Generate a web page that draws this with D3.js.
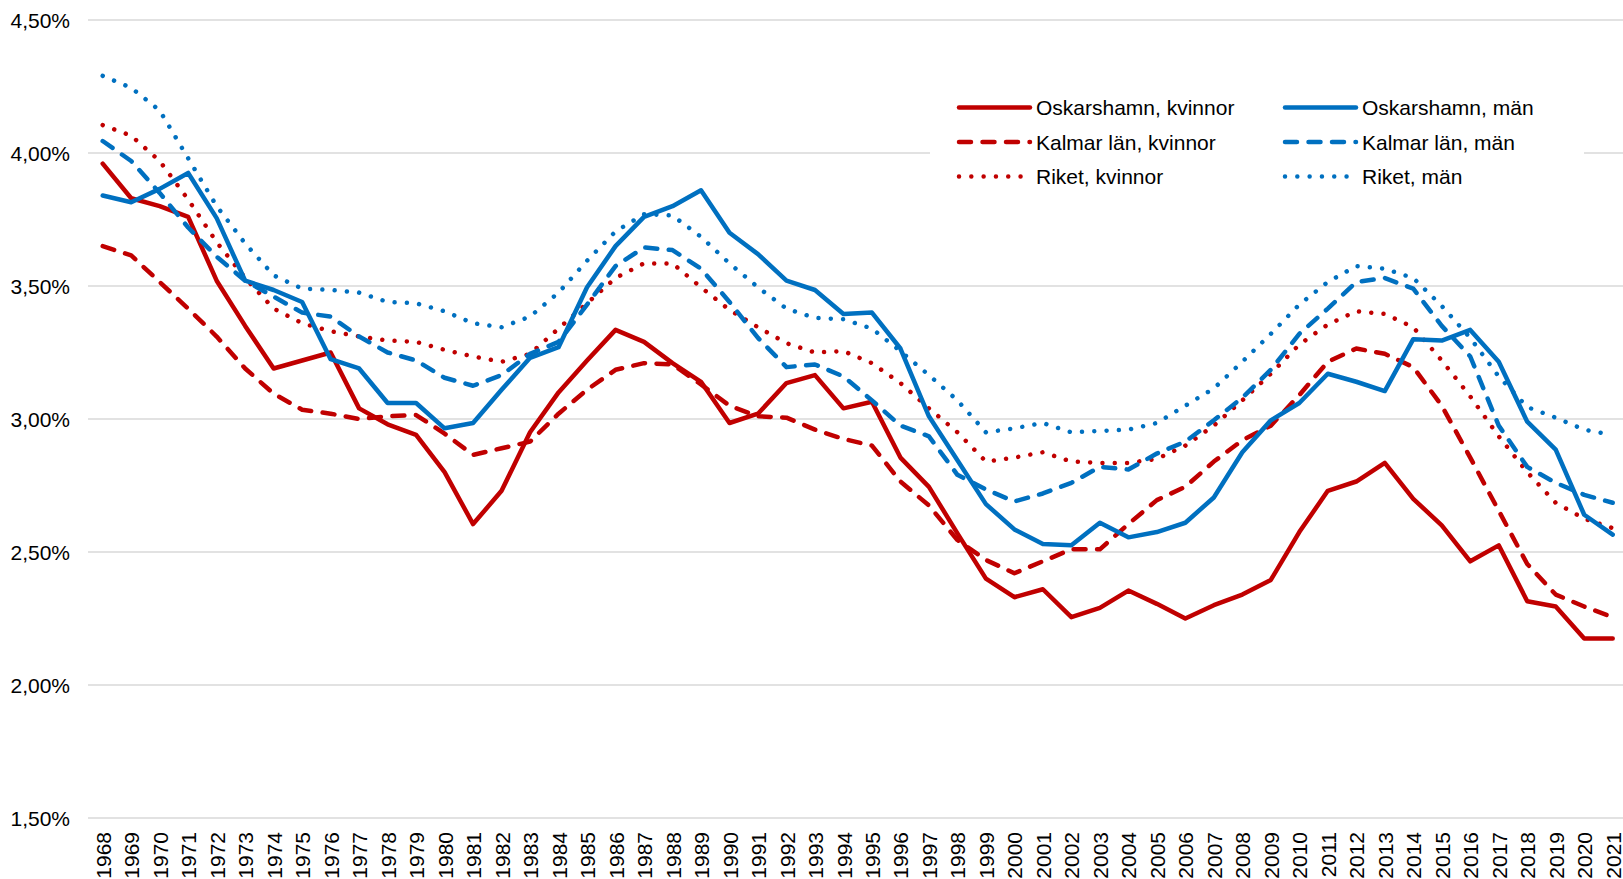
<!DOCTYPE html>
<html>
<head>
<meta charset="utf-8">
<script src="https://cdn.jsdelivr.net/npm/d3@7"></script>
<style>
  html, body { margin: 0; padding: 0; background: #fff; }
  svg { display: block; }
  text { font-family: "Liberation Sans", Arial, sans-serif; fill: #000; }
</style>
</head>
<body>
<svg id="chart" width="1623" height="879"></svg>
<script>
const years = d3.range(1968, 2022);

const oskKvinnor = [3.96,3.83,3.80,3.76,3.52,3.35,3.19,3.22,3.25,3.04,2.98,2.94,2.80,2.605,2.73,2.95,3.10,3.22,3.335,3.29,3.21,3.14,2.985,3.02,3.135,3.165,3.04,3.065,2.855,2.745,2.57,2.40,2.33,2.36,2.255,2.29,2.355,2.305,2.25,2.30,2.34,2.395,2.575,2.73,2.765,2.835,2.70,2.60,2.465,2.525,2.315,2.295,2.175,2.175];
const oskMan = [3.84,3.815,3.865,3.925,3.755,3.52,3.485,3.44,3.225,3.19,3.06,3.06,2.965,2.985,3.11,3.23,3.27,3.495,3.65,3.76,3.80,3.86,3.70,3.62,3.52,3.485,3.395,3.40,3.265,3.01,2.845,2.68,2.585,2.53,2.525,2.61,2.555,2.575,2.61,2.705,2.875,2.995,3.06,3.17,3.14,3.105,3.30,3.295,3.335,3.215,2.99,2.885,2.64,2.565];
const kalKvinnor = [3.65,3.615,3.515,3.415,3.31,3.19,3.095,3.035,3.02,3.00,3.01,3.015,2.945,2.865,2.89,2.915,3.02,3.11,3.185,3.21,3.205,3.13,3.05,3.01,3.005,2.96,2.925,2.90,2.765,2.675,2.545,2.47,2.42,2.465,2.51,2.51,2.605,2.695,2.745,2.84,2.92,2.975,3.09,3.215,3.265,3.245,3.195,3.05,2.855,2.655,2.455,2.34,2.295,2.255];
const kalMan = [4.045,3.97,3.85,3.72,3.61,3.52,3.46,3.40,3.385,3.31,3.25,3.22,3.155,3.125,3.165,3.245,3.29,3.43,3.575,3.645,3.635,3.565,3.44,3.305,3.195,3.205,3.16,3.07,2.975,2.935,2.79,2.735,2.69,2.72,2.76,2.82,2.81,2.87,2.915,2.995,3.08,3.185,3.32,3.415,3.515,3.53,3.49,3.35,3.235,2.975,2.82,2.76,2.715,2.685];
const riketKvinnor = [4.105,4.065,3.97,3.825,3.665,3.53,3.415,3.36,3.33,3.31,3.295,3.29,3.26,3.235,3.215,3.245,3.34,3.435,3.53,3.585,3.585,3.495,3.41,3.345,3.285,3.25,3.255,3.21,3.135,3.04,2.95,2.84,2.855,2.875,2.84,2.835,2.835,2.85,2.90,2.975,3.07,3.17,3.28,3.355,3.405,3.395,3.345,3.22,3.085,2.935,2.80,2.685,2.625,2.59];
const riketMan = [4.29,4.245,4.16,3.98,3.80,3.66,3.54,3.49,3.485,3.475,3.44,3.435,3.405,3.36,3.345,3.385,3.475,3.595,3.705,3.77,3.765,3.685,3.585,3.495,3.415,3.38,3.375,3.34,3.255,3.165,3.07,2.95,2.965,2.985,2.95,2.955,2.96,2.985,3.05,3.115,3.215,3.32,3.43,3.515,3.575,3.565,3.53,3.425,3.305,3.16,3.045,3.005,2.96,2.94];

const seriesNames = ["Oskarshamn, kvinnor","Kalmar län, kvinnor","Riket, kvinnor","Oskarshamn, män","Kalmar län, män","Riket, män"];
const seriesValues = [oskKvinnor, kalKvinnor, riketKvinnor, oskMan, kalMan, riketMan];
const seriesColors = ["#C00000","#C00000","#C00000","#0070C0","#0070C0","#0070C0"];
const seriesStyles = ["solid","dash","dot","solid","dash","dot"];
const yTicks = [1.5, 2.0, 2.5, 3.0, 3.5, 4.0, 4.5];

const svg = d3.select("#chart");
const plotLeft = 88, plotRight = 1623;
const x = d3.scalePoint().domain(years).range([102.7, 1612.7]);
const y = d3.scaleLinear().domain([1.5, 4.5]).range([818, 20]);

const locale = d3.formatLocale({decimal: ",", thousands: " ", grouping: [3], currency: ["", " kr"]});
const fmt = v => locale.format(".2f")(v) + "%";

// gridlines
const grid = svg.append("g");
grid.selectAll("line").data(yTicks).join("line")
  .attr("x1", plotLeft).attr("x2", plotRight)
  .attr("y1", d => y(d)).attr("y2", d => y(d))
  .attr("stroke", "#d9d9d9").attr("stroke-width", 1.4);

// y axis labels
const yAxis = d3.axisLeft(y).tickValues(yTicks).tickFormat(fmt).tickSize(0).tickPadding(0);
const yg = svg.append("g").attr("transform", "translate(70,0)").call(yAxis);
yg.select(".domain").remove();
yg.selectAll("text").attr("font-size", 21).attr("font-family", "Liberation Sans, Arial, sans-serif").attr("fill", "#000").attr("dy", "0.36em");

// x axis labels
const xAxis = d3.axisBottom(x).tickSize(0).tickPadding(0).tickFormat(d => String(d));
const xg = svg.append("g").attr("transform", "translate(0,832)").call(xAxis);
xg.select(".domain").remove();
xg.selectAll("text")
  .attr("font-size", 21).attr("font-family", "Liberation Sans, Arial, sans-serif").attr("fill", "#000")
  .attr("transform", "rotate(-90)")
  .attr("text-anchor", "end")
  .attr("x", 0).attr("y", 0).attr("dy", "0.36em");

function dashFor(style) {
  if (style === "dash") return "12,11.5";
  if (style === "dot") return "0.01,12.3";
  return null;
}

const line = d3.line()
  .x((d, i) => x(years[i]))
  .y(d => y(d))
  .curve(d3.curveLinear);

const lines = svg.append("g");
seriesValues.forEach((vals, k) => {
  lines.append("path")
    .datum(vals)
    .attr("d", line)
    .attr("fill", "none")
    .attr("stroke", seriesColors[k])
    .attr("stroke-width", 4.5)
    .attr("stroke-linecap", "round")
    .attr("stroke-linejoin", "round")
    .attr("stroke-dasharray", dashFor(seriesStyles[k]));
});

// legend
const legend = svg.append("g");
legend.append("rect").attr("x", 930).attr("y", 84).attr("width", 654).attr("height", 118).attr("fill", "#fff");
const colX = [959, 1285];
const rowY = [107.5, 142, 176.5];
seriesNames.forEach((name, k) => {
  const cx = colX[Math.floor(k / 3)], cy = rowY[k % 3];
  legend.append("line")
    .attr("x1", cx).attr("x2", cx + 71).attr("y1", cy).attr("y2", cy)
    .attr("stroke", seriesColors[k]).attr("stroke-width", 4.5)
    .attr("stroke-linecap", "round")
    .attr("stroke-dasharray", dashFor(seriesStyles[k]));
  legend.append("text")
    .attr("x", cx + 77).attr("y", cy).attr("dy", "0.36em")
    .attr("font-size", 21)
    .text(name);
});
</script>
</body>
</html>
